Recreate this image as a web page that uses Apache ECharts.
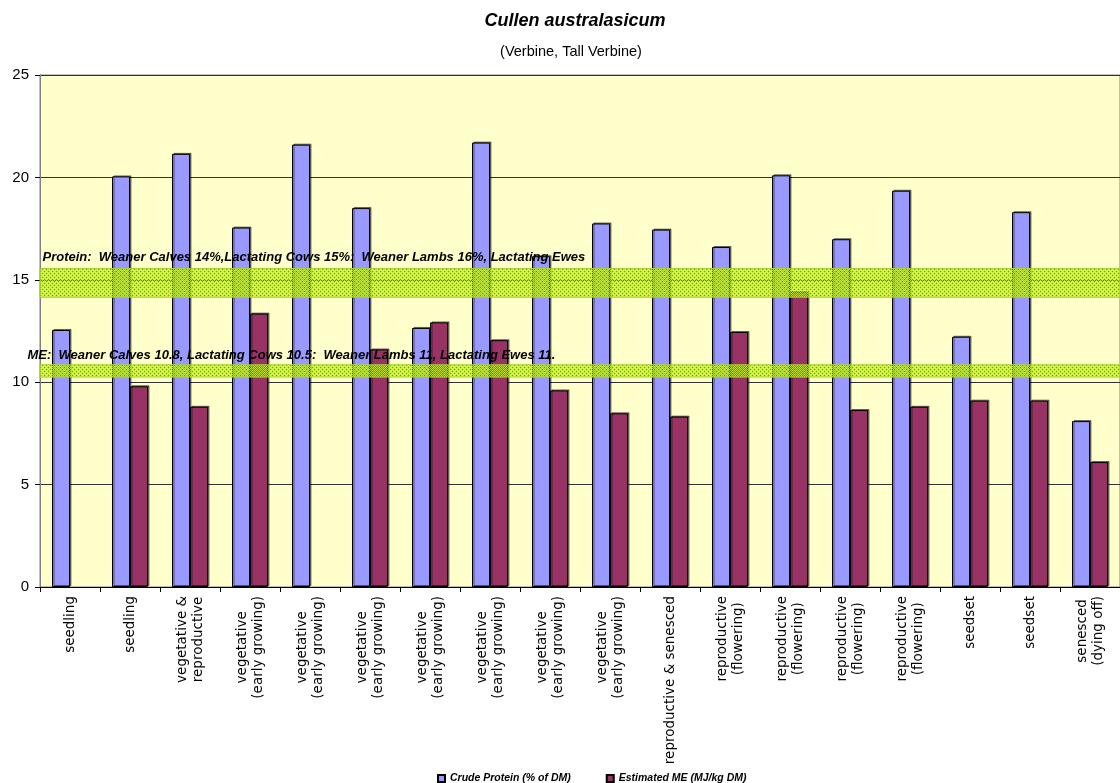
<!DOCTYPE html>
<html>
<head>
<meta charset="utf-8">
<script src="https://cdn.jsdelivr.net/npm/echarts@6/dist/echarts.min.js"></script>
<style>
  html, body { margin: 0; padding: 0; background: #fff; }
  #chart { width: 1120px; height: 783px; }
</style>
</head>
<body>
<div id="chart"></div>
<script>
// Growth stage of each sample
const categories = [
  'seedling',
  'seedling',
  'vegetative &\nreproductive',
  'vegetative\n(early growing)',
  'vegetative\n(early growing)',
  'vegetative\n(early growing)',
  'vegetative\n(early growing)',
  'vegetative\n(early growing)',
  'vegetative\n(early growing)',
  'vegetative\n(early growing)',
  'reproductive & senesced',
  'reproductive\n(flowering)',
  'reproductive\n(flowering)',
  'reproductive\n(flowering)',
  'reproductive\n(flowering)',
  'seedset',
  'seedset',
  'senesced\n(dying off)'
];

// Crude protein, % of dry matter
const crudeProtein = [12.55, 20.05, 21.15, 17.55, 21.6, 18.5, 12.65, 21.7, 16.15, 17.75, 17.45, 16.6, 20.1, 16.98, 19.35, 12.22, 18.3, 8.1];

// Estimated metabolisable energy, MJ/kg DM (no reading for two samples)
const estimatedME = [null, 9.8, 8.8, 13.35, null, 11.6, 12.92, 12.05, 9.6, 8.48, 8.32, 12.45, 14.4, 8.64, 8.8, 9.1, 9.1, 6.1];

// Y axis range and step
const yMin = 0, yMax = 25, yStep = 5;

// Livestock requirement bands
const proteinBand = [14.15, 15.55];
const meBand = [10.25, 10.85];
const proteinNote = 'Protein:  Weaner Calves 14%,Lactating Cows 15%:  Weaner Lambs 16%, Lactating Ewes';
const meNote = 'ME:  Weaner Calves 10.8, Lactating Cows 10.5:  Weaner Lambs 11, Lactating Ewes 11.';

const seriesNames = ['Crude Protein (% of DM)', 'Estimated ME (MJ/kg DM)'];

// Dithered, lightly hatched lime fill for the requirement bands
function bandPattern() {
  const c = document.createElement('canvas');
  c.width = 4; c.height = 4;
  const g = c.getContext('2d');
  for (let y = 0; y < 4; y++) {
    for (let x = 0; x < 4; x++) {
      g.fillStyle = (x + y) % 2 === 0 ? 'rgba(188,228,48,0.95)' : 'rgba(188,228,48,0.4)';
      g.fillRect(x, y, 1, 1);
    }
  }
  g.fillStyle = 'rgba(60,140,60,0.8)';
  g.fillRect(0, 3, 1, 1);
  g.fillRect(2, 1, 1, 1);
  return c;
}
const bandFill = { image: bandPattern(), repeat: 'repeat' };

const noteStyle = {
  show: true,
  color: '#000',
  fontFamily: 'Liberation Sans, Arial, sans-serif',
  fontStyle: 'italic',
  fontWeight: 'bold',
  fontSize: 13,
  align: 'left',
  verticalAlign: 'top'
};

const barShadow = {
  borderColor: '#000',
  borderWidth: 1,
  shadowColor: 'rgba(0,0,0,0.5)',
  shadowOffsetX: 1.5,
  shadowOffsetY: -1,
  shadowBlur: 0
};

const chart = echarts.init(document.getElementById('chart'), null, { renderer: 'canvas' });

chart.setOption({
  animation: false,
  backgroundColor: '#fff',
  title: [
    {
      text: 'Cullen australasicum',
      left: 570, top: 7, textAlign: 'center',
      textStyle: { fontFamily: 'Liberation Sans, Arial, sans-serif', fontSize: 18, fontStyle: 'italic', fontWeight: 'bold', color: '#000' }
    },
    {
      text: '(Verbine, Tall Verbine)',
      left: 566, top: 39, textAlign: 'center',
      textStyle: { fontFamily: 'Liberation Sans, Arial, sans-serif', fontSize: 14.5, fontWeight: 'normal', color: '#000' }
    }
  ],
  legend: {
    data: seriesNames,
    left: 432, top: 768,
    itemWidth: 7, itemHeight: 7, itemGap: 35,
    icon: 'rect',
    textStyle: { fontFamily: 'Liberation Sans, Arial, sans-serif', fontSize: 10.5, fontStyle: 'italic', fontWeight: 'bold', color: '#000' }
  },
  grid: {
    left: 40, right: 0, top: 75, bottom: 196,
    show: true,
    backgroundColor: '#FFFFCC',
    borderColor: '#808080',
    borderWidth: 1
  },
  xAxis: {
    type: 'category',
    data: categories,
    boundaryGap: true,
    axisLine: { lineStyle: { color: '#000', width: 1 } },
    axisTick: { show: true, length: 5, inside: false, lineStyle: { color: '#000' } },
    axisLabel: {
      interval: 0,
      rotate: 90,
      margin: 9,
      color: '#000',
      formatter: v => v.split('\n').map(s => '{c|' + s + '}').join('\n'),
      rich: {
        c: { align: 'center', fontFamily: 'DejaVu Sans, sans-serif', fontSize: 13.5, lineHeight: 16, color: '#000' }
      }
    },
    splitLine: { show: false }
  },
  yAxis: {
    type: 'value',
    min: yMin, max: yMax, interval: yStep,
    axisLine: { show: true, lineStyle: { color: '#808080' } },
    axisTick: { show: true, length: 5, lineStyle: { color: '#000' } },
    axisLabel: { fontFamily: 'Liberation Sans, Arial, sans-serif', fontSize: 15, color: '#000', margin: 11 },
    splitLine: { show: true, lineStyle: { color: '#333', width: 1 } }
  },
  series: [
    {
      name: seriesNames[0],
      type: 'bar',
      data: crudeProtein,
      barWidth: 18,
      barGap: '0%',
      itemStyle: Object.assign({ color: '#9999FF' }, barShadow)
    },
    {
      name: seriesNames[1],
      type: 'bar',
      data: estimatedME,
      barWidth: 18,
      barGap: '0%',
      itemStyle: Object.assign({ color: '#993366' }, barShadow)
    },
    {
      // requirement bands, drawn over the bars
      name: 'bands',
      type: 'line',
      data: [],
      z: 6,
      silent: true,
      markArea: {
        z: 6,
        silent: true,
        itemStyle: { color: bandFill, borderColor: '#A6CE39', borderWidth: 1, opacity: 1 },
        data: [
          [
            { yAxis: proteinBand[0], label: Object.assign({ formatter: proteinNote, position: [3, -17] }, noteStyle) },
            { yAxis: proteinBand[1] }
          ],
          [
            { yAxis: meBand[0], label: Object.assign({ formatter: meNote, position: [-12, -15] }, noteStyle) },
            { yAxis: meBand[1] }
          ]
        ]
      }
    }
  ]
});
</script>
</body>
</html>
